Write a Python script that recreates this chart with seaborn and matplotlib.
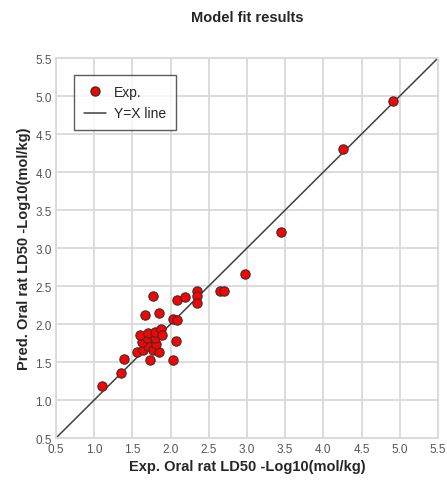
import numpy as np
import pandas as pd
import seaborn as sns
import matplotlib.pyplot as plt
from matplotlib.lines import Line2D

sns.set_style("white")
plt.rcParams['font.family'] = ['Liberation Sans', 'DejaVu Sans']

exp_vals = [1.10, 1.35, 1.39, 1.56, 1.64, 1.71, 1.77, 1.85, 1.81, 1.62,
            1.69, 1.80, 1.60, 1.70, 1.79, 1.87, 1.89, 1.73, 2.03, 2.07,
            2.03, 2.09, 1.67, 1.85, 1.77, 2.09, 2.19, 2.34, 2.34, 2.34,
            2.65, 2.70, 2.97, 3.45, 4.25, 4.91]
pred_vals = [1.18, 1.36, 1.54, 1.63, 1.66, 1.71, 1.66, 1.63, 1.74, 1.76,
             1.82, 1.81, 1.86, 1.88, 1.90, 1.93, 1.86, 1.53, 1.53, 1.78,
             2.07, 2.05, 2.12, 2.15, 2.37, 2.31, 2.35, 2.44, 2.37, 2.28,
             2.44, 2.44, 2.66, 3.21, 4.30, 4.94]
line_x = [0.5, 5.5]
ticks = [0.5, 1.0, 1.5, 2.0, 2.5, 3.0, 3.5, 4.0, 4.5, 5.0, 5.5]

df = pd.DataFrame({"exp": exp_vals, "pred": pred_vals})
ref = pd.DataFrame({"x": line_x, "y": line_x})

fig = plt.figure(figsize=(4.47, 4.81), dpi=100)
ax = fig.add_axes([0.1253, 0.0873, 0.8546, 0.79])

grid_c = "#d9d9d9"
ax.set_axisbelow(True)
ax.grid(True, color=grid_c, linewidth=1.3)

sns.lineplot(data=ref, x="x", y="y", ax=ax, color="#404040", linewidth=1.1, zorder=2)
sns.scatterplot(data=df, x="exp", y="pred", ax=ax, color="#ff0000", edgecolor="#333333",
                linewidth=0.8, s=45, zorder=3)

ax.set_xlim(0.5, 5.5)
ax.set_ylim(0.5, 5.5)
ax.set_xticks(ticks)
ax.set_yticks(ticks)
ax.set_xticklabels([f"{t:.1f}" for t in ticks])
ax.set_yticklabels([f"{t:.1f}" for t in ticks])
ax.tick_params(axis="both", labelsize=8.5, colors="#555555", length=2)
ax.tick_params(axis="x", pad=1.5)
ax.tick_params(axis="y", pad=1)
for sp in ax.spines.values():
    sp.set_color(grid_c)
    sp.set_linewidth(1.3)

ax.set_xlabel("Exp. Oral rat LD50 -Log10(mol/kg)", fontsize=10.5, fontweight="bold", labelpad=3)
ax.set_ylabel("Pred. Oral rat LD50 -Log10(mol/kg)", fontsize=10.5, fontweight="bold", labelpad=3)
ax.set_title("Model fit results", fontsize=10.5, fontweight="bold", pad=27)

handles = [
    Line2D([], [], marker="o", linestyle="none", markerfacecolor="#ff0000",
           markeredgecolor="#333333", markersize=6.5),
    Line2D([], [], color="#404040", linewidth=1.1),
]
leg = ax.legend(handles, ["Exp.", "Y=X line"], loc="upper left",
                bbox_to_anchor=(0.047, 0.955), borderaxespad=0, fontsize=10,
                frameon=True, fancybox=False, handlelength=1.6, handletextpad=0.6,
                borderpad=0.7, labelspacing=0.55)
leg.get_frame().set_edgecolor("#333333")
leg.get_frame().set_linewidth(1.0)

fig.savefig("out.png", dpi=100)
